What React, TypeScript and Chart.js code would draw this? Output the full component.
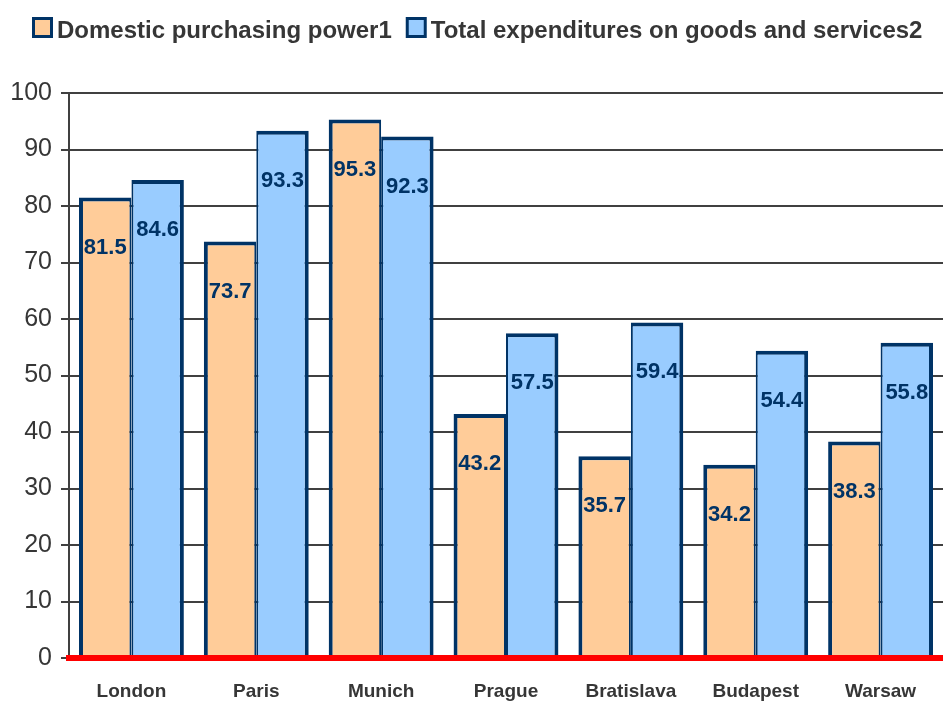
import React, { useEffect, useRef } from "react";
import { Chart, registerables } from "chart.js";

Chart.register(...registerables);

const categories = ["London", "Paris", "Munich", "Prague", "Bratislava", "Budapest", "Warsaw"];
const domesticPower = [81.5, 73.7, 95.3, 43.2, 35.7, 34.2, 38.3];
const totalExpenditures = [84.6, 93.3, 92.3, 57.5, 59.4, 54.4, 55.8];
const seriesNames = ["Domestic purchasing power1", "Total expenditures on goods and services2"];
const yMin = 0;
const yMax = 100;
const yStep = 10;

const FONT = "'Liberation Sans', Arial, Helvetica, sans-serif";
const NAVY = "#003366";
const ORANGE = "#FFCC99";
const BLUE = "#99CCFF";
const TEXT = "#363636";

const legendPlugin = {
  id: "customLegend",
  afterDraw(chart: any) {
    const ctx = chart.ctx;
    ctx.save();
    ctx.font = `bold 24px ${FONT}`;
    ctx.textBaseline = "alphabetic";
    let x = 32;
    const boxTop = 17;
    const box = 21;
    chart.data.datasets.forEach((ds: any) => {
      ctx.fillStyle = NAVY;
      ctx.fillRect(x, boxTop, box, box);
      ctx.fillStyle = ds.backgroundColor;
      ctx.fillRect(x + 3, boxTop + 3, box - 6, box - 6);
      x += box + 4;
      ctx.fillStyle = TEXT;
      ctx.fillText(ds.label, x, 38);
      x += ctx.measureText(ds.label).width + 14;
    });
    ctx.restore();
  },
};

const valueLabelPlugin = {
  id: "valueLabels",
  afterDatasetsDraw(chart: any) {
    const ctx = chart.ctx;
    ctx.save();
    ctx.font = `bold 22px ${FONT}`;
    ctx.fillStyle = NAVY;
    ctx.textAlign = "center";
    ctx.textBaseline = "middle";
    chart.data.datasets.forEach((ds: any, di: number) => {
      const meta = chart.getDatasetMeta(di);
      meta.data.forEach((el: any, i: number) => {
        const v = ds.data[i];
        ctx.fillText(v.toFixed(1), el.x, el.y + 50);
      });
    });
    ctx.restore();
  },
};

export default function App() {
  const ref = useRef<HTMLCanvasElement | null>(null);
  useEffect(() => {
    if (!ref.current) return;
    const chart = new Chart(ref.current, {
      type: "bar",
      data: {
        labels: categories,
        datasets: [
          {
            label: seriesNames[0],
            data: domesticPower,
            backgroundColor: ORANGE,
            borderColor: NAVY,
            borderWidth: { top: 4, left: 4, right: 2, bottom: 0 },
            borderSkipped: false,
          },
          {
            label: seriesNames[1],
            data: totalExpenditures,
            backgroundColor: BLUE,
            borderColor: NAVY,
            borderWidth: { top: 4, left: 2, right: 4, bottom: 0 },
            borderSkipped: false,
          },
        ],
      },
      options: {
        responsive: false,
        animation: false,
        layout: { padding: { top: 93, right: 0, left: 0, bottom: 0 } },
        plugins: {
          legend: { display: false },
          tooltip: { enabled: false },
        },
        datasets: {
          bar: { categoryPercentage: 0.84, barPercentage: 1 },
        },
        scales: {
          x: {
            afterFit: (s: any) => {
              s.height = 44;
            },
            grid: { display: false, drawTicks: false },
            border: { display: true, color: "#FF0000", width: 6, z: 1 },
            ticks: {
              padding: 22,
              color: TEXT,
              font: { family: FONT, size: 19, weight: "bold" },
            },
          },
          y: {
            min: yMin,
            max: yMax,
            afterFit: (s: any) => {
              s.width = 69;
            },
            grid: { color: "#404040", lineWidth: 2, tickLength: 8, drawTicks: true },
            border: { color: "#404040", width: 2 },
            ticks: {
              stepSize: yStep,
              padding: 9,
              color: TEXT,
              font: { family: FONT, size: 25 },
            },
          },
        },
      },
      plugins: [legendPlugin, valueLabelPlugin],
    });
    return () => chart.destroy();
  }, []);
  return (
    <div style={{ position: "fixed", left: 0, top: 0, width: 943, height: 702, background: "#fff" }}>
      <canvas ref={ref} width={943} height={702} style={{ display: "block" }} />
    </div>
  );
}
